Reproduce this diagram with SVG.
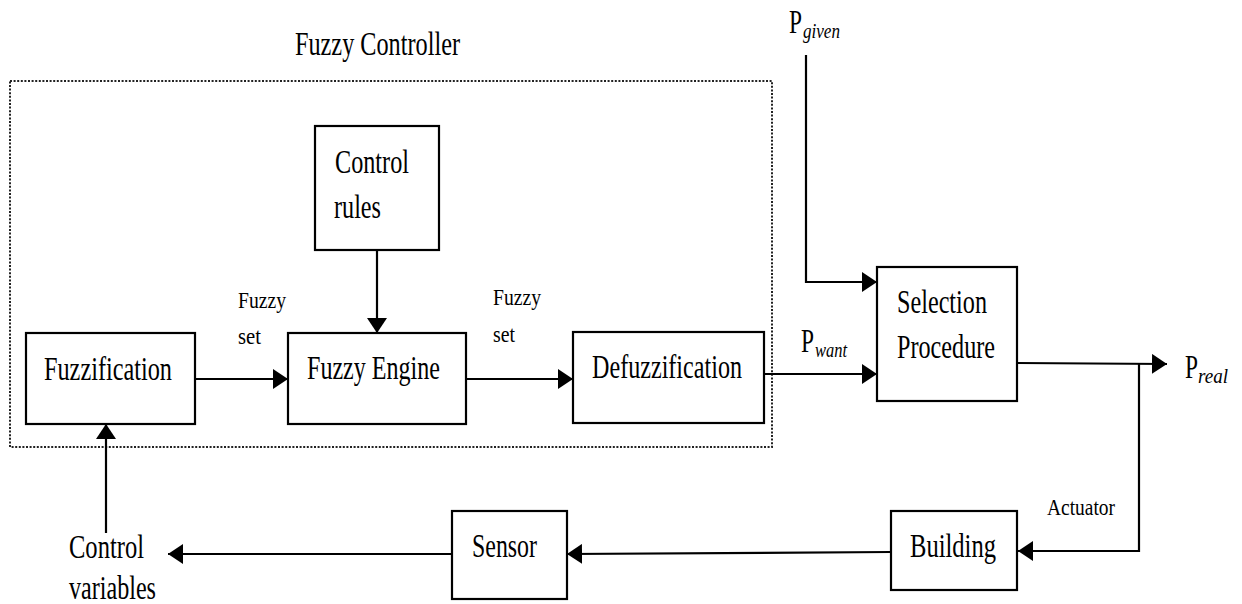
<svg xmlns="http://www.w3.org/2000/svg" width="1242" height="604" viewBox="0 0 1242 604">
  <style>
    .box { fill: #ffffff; stroke: #000000; stroke-width: 2.2; }
    .frame { fill: none; stroke: #222222; stroke-width: 2; stroke-dasharray: 2 1.6; }
    .wire { fill: none; stroke: #000000; stroke-width: 2.2; }
    text { font-family: 'Liberation Serif', 'Times New Roman', Times, serif; fill: #000000; }
    .t { font-size: 34px; }
    .s { font-size: 24px; }
    .sub { font-size: 21px; font-style: italic; }
  </style>
  <defs>
    <marker id="arrow" markerUnits="userSpaceOnUse" markerWidth="16" markerHeight="20" refX="15" refY="10" orient="auto">
      <path d="M0,0 L15,10 L0,20 Z" fill="#000000"/>
    </marker>
  </defs>

  <rect width="1242" height="604" fill="#ffffff"/>

  <!-- fuzzy controller enclosure -->
  <g id="fuzzy-controller">
    <rect class="frame" x="10" y="81" width="762" height="366"/>
    <text class="t" x="295" y="55" textLength="165" lengthAdjust="spacingAndGlyphs">Fuzzy Controller</text>
  </g>

  <!-- connectors -->
  <g id="connectors">
    <path class="wire" d="M377,250 V333" marker-end="url(#arrow)"/>
    <path class="wire" d="M195,379 H288" marker-end="url(#arrow)"/>
    <path class="wire" d="M466,379 H573" marker-end="url(#arrow)"/>
    <path class="wire" d="M764,374 H877" marker-end="url(#arrow)"/>
    <path class="wire" d="M806,55 V282 H877" marker-end="url(#arrow)"/>
    <path class="wire" d="M1017,363 L1167,364" marker-end="url(#arrow)"/>
    <path class="wire" d="M1139,364 V551 H1018" marker-end="url(#arrow)"/>
    <path class="wire" d="M891,552 L567,554" marker-end="url(#arrow)"/>
    <path class="wire" d="M452,554 H168" marker-end="url(#arrow)"/>
    <path class="wire" d="M106,533 V424" marker-end="url(#arrow)"/>
  </g>

  <!-- connector labels -->
  <g id="labels">
    <text class="s" x="238" y="308" textLength="48" lengthAdjust="spacingAndGlyphs">Fuzzy</text>
    <text class="s" x="238" y="344" textLength="23" lengthAdjust="spacingAndGlyphs">set</text>
    <text class="s" x="493" y="305" textLength="48" lengthAdjust="spacingAndGlyphs">Fuzzy</text>
    <text class="s" x="493" y="342" textLength="22" lengthAdjust="spacingAndGlyphs">set</text>
    <text class="s" x="1047" y="515" textLength="68" lengthAdjust="spacingAndGlyphs">Actuator</text>
  </g>

  <g id="control-rules">
    <rect class="box" x="315" y="126" width="124" height="124"/>
    <text class="t" x="335" y="173" textLength="74" lengthAdjust="spacingAndGlyphs">Control</text>
    <text class="t" x="334" y="218" textLength="47" lengthAdjust="spacingAndGlyphs">rules</text>
  </g>

  <g id="fuzzification">
    <rect class="box" x="26" y="333" width="169" height="91"/>
    <text class="t" x="44" y="380" textLength="128" lengthAdjust="spacingAndGlyphs">Fuzzification</text>
  </g>

  <g id="fuzzy-engine">
    <rect class="box" x="288" y="333" width="178" height="91"/>
    <text class="t" x="307" y="379" textLength="133" lengthAdjust="spacingAndGlyphs">Fuzzy Engine</text>
  </g>

  <g id="defuzzification">
    <rect class="box" x="573" y="332" width="191" height="91"/>
    <text class="t" x="592" y="378" textLength="150" lengthAdjust="spacingAndGlyphs">Defuzzification</text>
  </g>

  <g id="selection-procedure">
    <rect class="box" x="877" y="267" width="140" height="134"/>
    <text class="t" x="897" y="313" textLength="90" lengthAdjust="spacingAndGlyphs">Selection</text>
    <text class="t" x="897" y="358" textLength="98" lengthAdjust="spacingAndGlyphs">Procedure</text>
  </g>

  <g id="building">
    <rect class="box" x="891" y="511" width="126" height="79"/>
    <text class="t" x="910" y="557" textLength="86" lengthAdjust="spacingAndGlyphs">Building</text>
  </g>

  <g id="sensor">
    <rect class="box" x="452" y="511" width="115" height="88"/>
    <text class="t" x="472" y="557" textLength="65" lengthAdjust="spacingAndGlyphs">Sensor</text>
  </g>

  <g id="control-variables">
    <text class="t" x="69" y="558" textLength="75" lengthAdjust="spacingAndGlyphs">Control</text>
    <text class="t" x="69" y="599" textLength="87" lengthAdjust="spacingAndGlyphs">variables</text>
  </g>

  <g id="p-given">
    <text class="t" x="789" y="33" textLength="13" lengthAdjust="spacingAndGlyphs">P</text>
    <text class="sub" x="803" y="38" textLength="37" lengthAdjust="spacingAndGlyphs">given</text>
  </g>

  <g id="p-want">
    <text class="t" x="801" y="352" textLength="13" lengthAdjust="spacingAndGlyphs">P</text>
    <text class="sub" x="815" y="357" textLength="32" lengthAdjust="spacingAndGlyphs">want</text>
  </g>

  <g id="p-real">
    <text class="t" x="1185" y="378" textLength="13" lengthAdjust="spacingAndGlyphs">P</text>
    <text class="sub" x="1198" y="383" textLength="30" lengthAdjust="spacingAndGlyphs">real</text>
  </g>
</svg>
